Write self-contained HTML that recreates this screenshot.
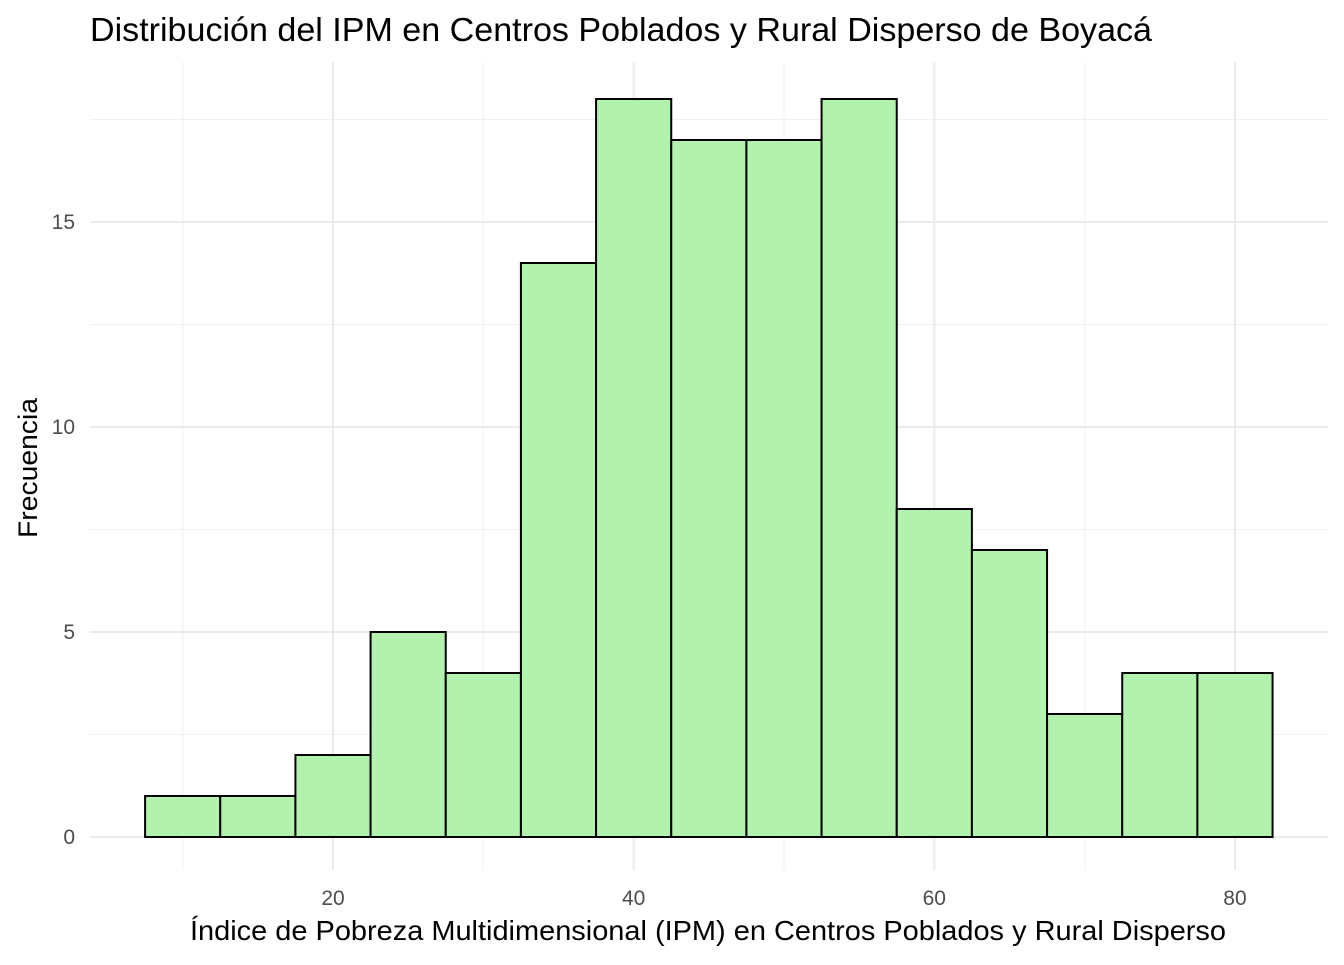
<!DOCTYPE html>
<html><head><meta charset="utf-8"><style>
body{margin:0;background:#fff;}
svg text{font-family:"Liberation Sans",sans-serif;}
</style></head><body>
<svg id="chart" width="1344" height="960" xmlns="http://www.w3.org/2000/svg">
<text x="90" y="41" font-size="33" textLength="1062" lengthAdjust="spacingAndGlyphs" fill="#000">Distribución del IPM en Centros Poblados y Rural Disperso de Boyacá</text>
<g id="grid"></g>
<g id="bars"></g>
<g id="ticks"></g>
<text x="190" y="940" font-size="28" textLength="1036" lengthAdjust="spacingAndGlyphs" fill="#000">Índice de Pobreza Multidimensional (IPM) en Centros Poblados y Rural Disperso</text>
<text transform="translate(37,538) rotate(-90)" font-size="27" textLength="140" lengthAdjust="spacingAndGlyphs" fill="#000">Frecuencia</text>
</svg>
<script>
const binStarts=[7.5,12.5,17.5,22.5,27.5,32.5,37.5,42.5,47.5,52.5,57.5,62.5,67.5,72.5,77.5];
const counts=[1,1,2,5,4,14,18,17,17,18,8,7,3,4,4];
const binWidth=5;
const xTicks=[20,40,60,80];
const xMinor=[10,30,50,70];
const yTicks=[0,5,10,15];
const yMinor=[2.5,7.5,12.5,17.5];
const X=v=>333+(v-20)*15.033;
const Y=v=>837-v*41;
const NS="http://www.w3.org/2000/svg";
function mk(tag,attrs,parent){const e=document.createElementNS(NS,tag);for(const k in attrs)e.setAttribute(k,attrs[k]);parent.appendChild(e);return e;}
const grid=document.getElementById('grid'),bars=document.getElementById('bars'),ticks=document.getElementById('ticks');
const L=90,R=1328,T=62,B=870;
xMinor.forEach(v=>{const l=mk('line',{x1:X(v),x2:X(v),y1:T,y2:B,stroke:'#f0f0f0','stroke-width':1},grid);

});
yMinor.forEach(v=>{const l=mk('line',{x1:L,x2:R,y1:Y(v),y2:Y(v),stroke:'#f0f0f0','stroke-width':1},grid);

});
xTicks.forEach(v=>{const l=mk('line',{x1:X(v),x2:X(v),y1:T,y2:B,stroke:'#ebebeb','stroke-width':2},grid);


const t=mk('text',{x:X(v),y:905,'font-size':21,'text-anchor':'middle',fill:'#4d4d4d'},ticks);t.textContent=v;

});
yTicks.forEach(v=>{const l=mk('line',{x1:L,x2:R,y1:Y(v),y2:Y(v),stroke:'#ebebeb','stroke-width':2},grid);


const t=mk('text',{x:75,y:Y(v)+7,'font-size':21,'text-anchor':'end',fill:'#4d4d4d'},ticks);t.textContent=v;

});
binStarts.forEach((s,i)=>{const r=mk('rect',{x:X(s),y:Y(counts[i]),width:X(s+binWidth)-X(s),height:Y(0)-Y(counts[i]),fill:'#b2f2ae',stroke:'#000','stroke-width':2},bars);

});
</script>
</body></html>
